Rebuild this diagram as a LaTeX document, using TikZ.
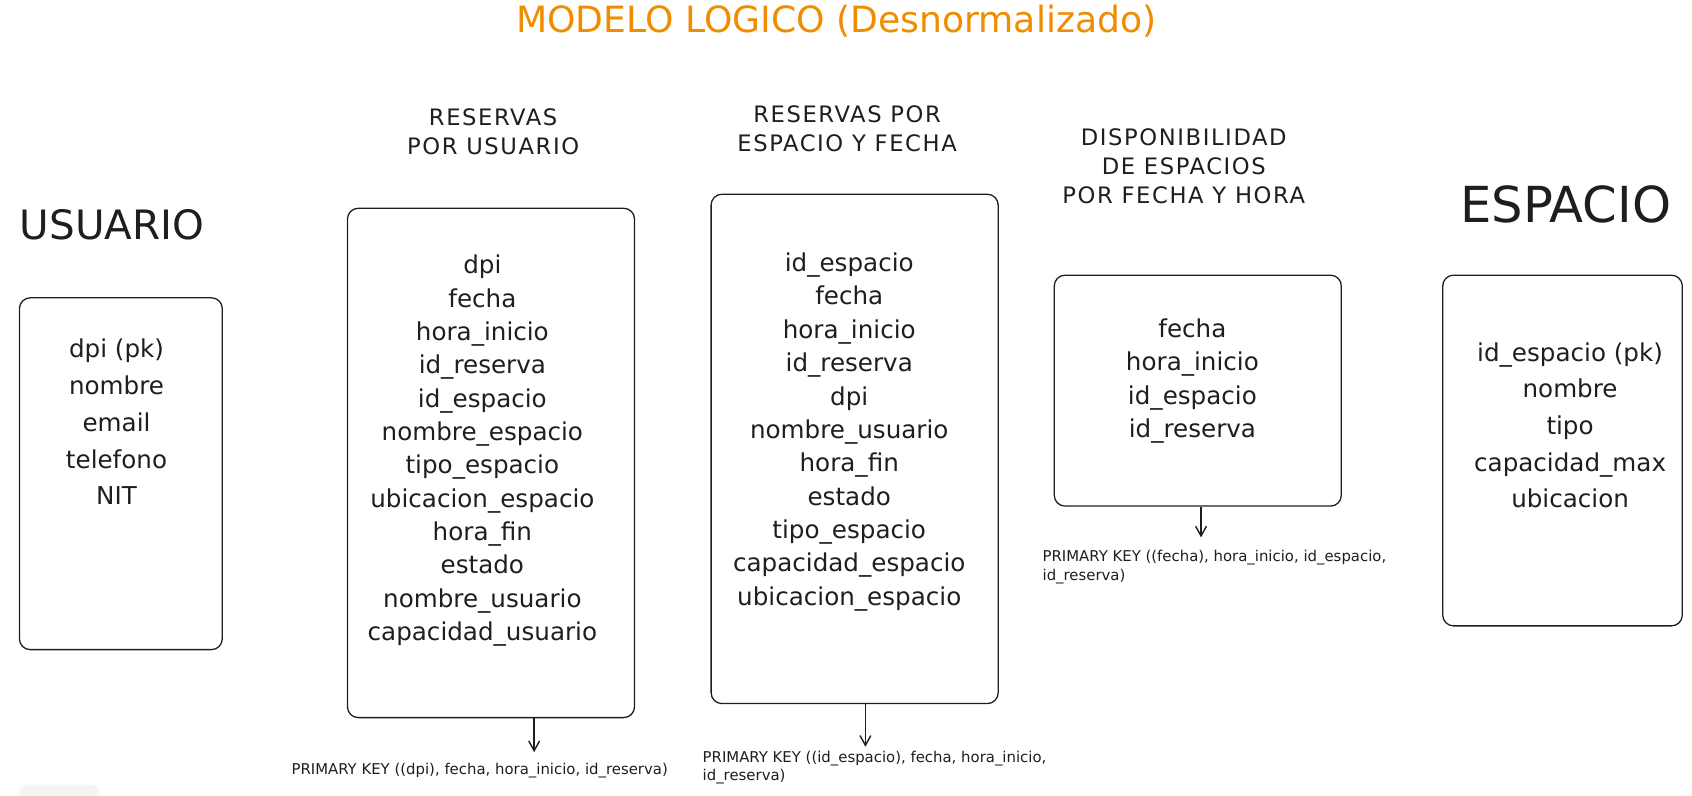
\documentclass[tikz,border=0pt]{standalone}
\usepackage{fontspec}
\setmainfont{DejaVu Sans}
\usetikzlibrary{arrows.meta}
\definecolor{titulo}{RGB}{240,140,0}
\definecolor{trazo}{RGB}{30,30,30}

\begin{document}
\begin{tikzpicture}[x=1pt, y=-1pt, ->, >={Straight Barb[length=9pt, width=10pt]},
    tabla/.style={draw=trazo, line width=1.2pt, rounded corners=10pt, inner sep=0pt},
    campo/.style={font=\fontsize{22.8}{26}\selectfont, text=trazo, inner sep=0pt, anchor=mid},
    cabecera/.style={font=\fontsize{21}{27}\selectfont\addfontfeature{LetterSpace=7}, text=trazo, align=center, inner sep=0pt},
    entidad/.style={font=\fontsize{37.5}{40}\selectfont, text=trazo, inner sep=0pt},
    clave/.style={font=\fontsize{13.8}{17}\selectfont, text=trazo, align=left, anchor=north west, inner sep=0pt}]

  \useasboundingbox (0,0) rectangle (1568,737);
  \fill[gray!8, rounded corners=6pt] (18,727) rectangle (92,750);

  % Title
  \node[font=\fontsize{33.5}{36}\selectfont, text=titulo, anchor=base, inner sep=0pt] (titulo) at (775,30) {MODELO LOGICO (Desnormalizado)};

  % Entity and table headings
  \node[entidad] (usuariotit) at (104,208) {USUARIO};
  \node[entidad, font=\fontsize{46}{50}\selectfont] (espaciotit) at (1451,189) {ESPACIO};
  \node[cabecera] (rutit) at (457,122) {RESERVAS\\POR USUARIO};
  \node[cabecera] (retit) at (785,119) {RESERVAS POR\\ESPACIO Y FECHA};
  \node[cabecera, font=\fontsize{21}{26.5}\selectfont\addfontfeature{LetterSpace=7}] (dptit) at (1097,154) {DISPONIBILIDAD\\DE ESPACIOS\\POR FECHA Y HORA};

  % Boxes
  \node[tabla, minimum width=188pt, minimum height=326pt] (usuario) at (112,439) {};
  \node[tabla, minimum width=266pt, minimum height=472pt] (ru) at (455,429) {};
  \node[tabla, minimum width=266pt, minimum height=472pt] (re) at (792,416) {};
  \node[tabla, minimum width=266pt, minimum height=214pt] (dp) at (1110,362) {};
  \node[tabla, minimum width=222pt, minimum height=325pt] (espacio) at (1448,417.5) {};

  % Columns
  \foreach \t [count=\i] in {dpi (pk),nombre,email,telefono,NIT}
    \node[campo] (usuario\i) at (108,{329+34*(\i-1)}) {\t};
  \foreach \t [count=\i] in {dpi,fecha,hora\_inicio,id\_reserva,id\_espacio,nombre\_espacio,
      tipo\_espacio,ubicacion\_espacio,hora\_fin,estado,nombre\_usuario,capacidad\_usuario}
    \node[campo] (ru\i) at (447,{251+30.9*(\i-1)}) {\t};
  \foreach \t [count=\i] in {id\_espacio,fecha,hora\_inicio,id\_reserva,dpi,nombre\_usuario,
      hora\_fin,estado,tipo\_espacio,capacidad\_espacio,ubicacion\_espacio}
    \node[campo] (re\i) at (787,{249+30.9*(\i-1)}) {\t};
  \foreach \t [count=\i] in {fecha,hora\_inicio,id\_espacio,id\_reserva}
    \node[campo] (dp\i) at (1105,{310+31*(\i-1)}) {\t};
  \foreach \t [count=\i] in {id\_espacio (pk),nombre,tipo,capacidad\_max,ubicacion}
    \node[campo] (espacio\i) at (1455,{332+34*(\i-1)}) {\t};

  % Primary keys
  \node[clave] (rupk) at (270,707) {PRIMARY KEY ((dpi), fecha, hora\_inicio, id\_reserva)};
  \node[clave] (repk) at (651,696) {PRIMARY KEY ((id\_espacio), fecha, hora\_inicio,\\id\_reserva)};
  \node[clave] (dppk) at (966,510) {PRIMARY KEY ((fecha), hora\_inicio, id\_espacio,\\id\_reserva)};

  \coordinate (ruflecha) at (495,697);
  \coordinate (reflecha) at (802,692);
  \coordinate (dpflecha) at (1113,498);
  \draw[trazo, line width=1.3pt] (ru.south -| ruflecha) -- (ruflecha);
  \draw[trazo, line width=1.3pt] (re.south -| reflecha) -- (reflecha);
  \draw[trazo, line width=1.3pt] (dp.south -| dpflecha) -- (dpflecha);

\end{tikzpicture}
\end{document}
